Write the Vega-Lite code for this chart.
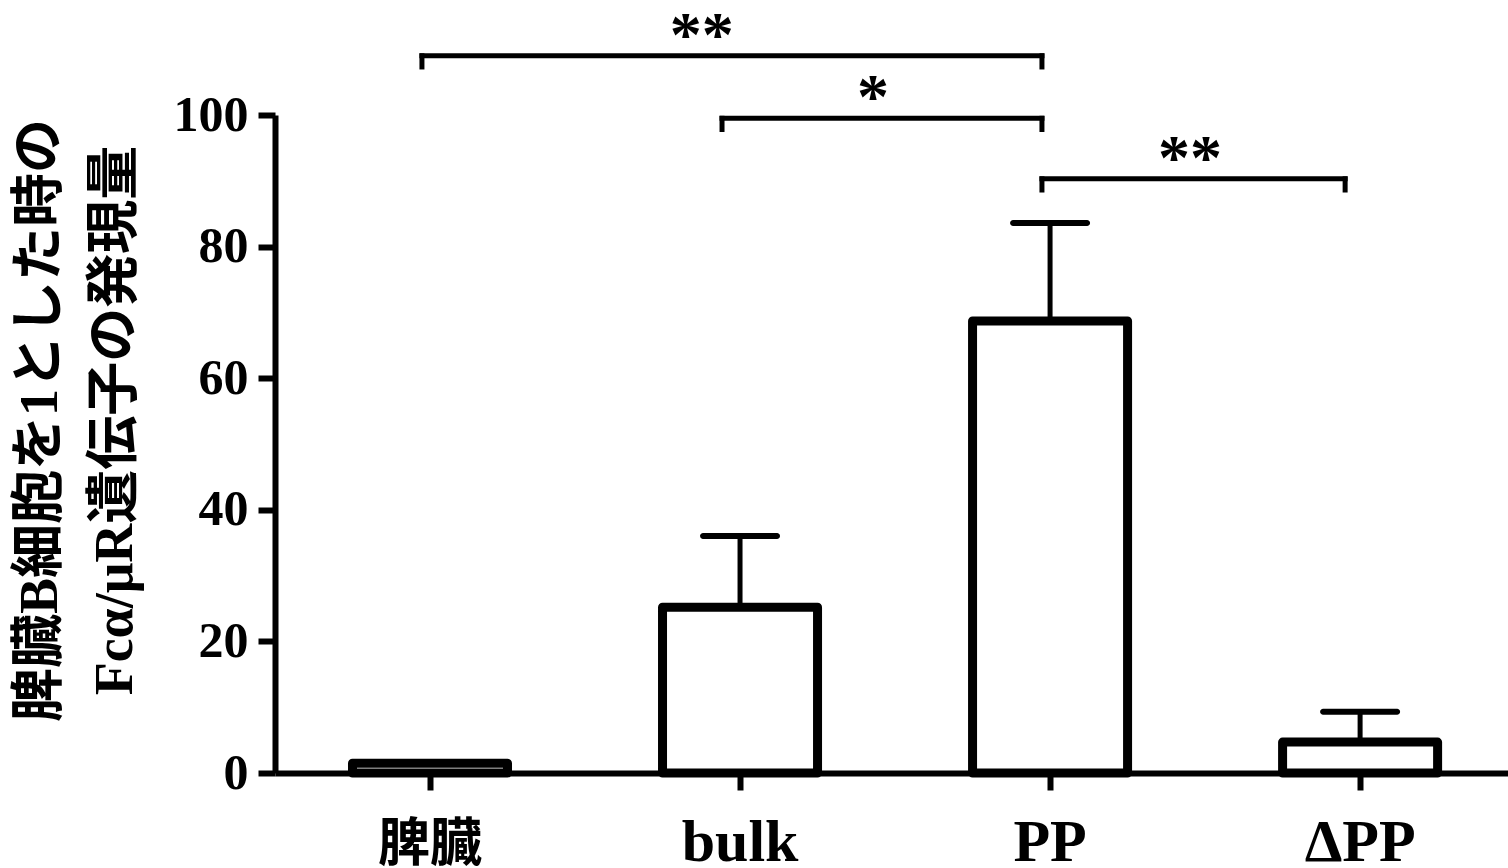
{
  "$schema": "https://vega.github.io/schema/vega-lite/v6.json",
  "width": 1233,
  "height": 658,
  "autosize": {"type": "none"},
  "padding": {"left": 275, "top": 115, "right": 0, "bottom": 95},
  "background": "white",
  "config": {
    "view": {"stroke": null},
    "axisY": {
      "titleFont": "Liberation Serif, Noto Sans CJK JP",
      "titleFontWeight": "bold",
      "titleFontSize": 54,
      "titleLineHeight": 75,
      "titleColor": "black",
      "titleAngle": -90,
      "titleAlign": "center",
      "titleBaseline": "middle",
      "titleX": -235,
      "titleY": 305,
      "labelFont": "Liberation Serif",
      "labelFontWeight": "bold",
      "labelFontSize": 50,
      "labelColor": "black",
      "labelPadding": 10,
      "tickSize": 17,
      "tickWidth": 6,
      "tickColor": "black",
      "domainWidth": 6,
      "domainColor": "black",
      "grid": false
    }
  },
  "datasets": {
    "bars": [
      {"group": "脾臓", "mean": 1.5},
      {"group": "bulk", "mean": 25.2},
      {"group": "PP", "mean": 68.7},
      {"group": "ΔPP", "mean": 4.7}
    ],
    "errors": [
      {"group": "bulk", "mean": 25.2, "upper": 36.0},
      {"group": "PP", "mean": 68.7, "upper": 83.6},
      {"group": "ΔPP", "mean": 4.7, "upper": 9.3}
    ],
    "brackets": [
      {"from": -0.026, "to": 1.974, "level": 109.0, "foot": 107.3, "stars": "**", "starpos": 0.877},
      {"from": 0.942, "to": 1.974, "level": 99.5, "foot": 97.8, "stars": "*", "starpos": 1.429},
      {"from": 1.974, "to": 2.952, "level": 90.3, "foot": 88.6, "stars": "**", "starpos": 2.452}
    ]
  },
  "layer": [
    {
      "layer": [
        {
          "data": {"name": "bars"},
          "mark": {"type": "bar", "fill": "white", "stroke": "black", "strokeWidth": 9, "strokeJoin": "round"},
          "encoding": {
            "x": {
              "field": "group", "type": "nominal", "sort": null,
              "scale": {"paddingInner": 0.5, "paddingOuter": 0.2385, "align": 0.524},
              "axis": {
                "title": null,
                "labelAngle": 0,
                "labelFont": "Liberation Serif, Noto Sans CJK JP",
                "labelFontWeight": "bold",
                "labelFontSize": {"condition": {"test": "datum.value === '脾臓'", "value": 52}, "value": 60},
                "labelColor": "black",
                "labelBaseline": "alphabetic",
                "labelPadding": 70,
                "tickSize": 17,
                "tickWidth": 6,
                "tickColor": "black",
                "domainWidth": 6,
                "domainColor": "black",
                "grid": false
              }
            },
            "y": {
              "field": "mean", "type": "quantitative",
              "scale": {"domain": [0, 100], "nice": false},
              "axis": {"title": ["脾臓B細胞を1とした時の", "Fcα/μR遺伝子の発現量"], "values": [0, 20, 40, 60, 80, 100]}
            }
          }
        },
        {
          "data": {"name": "errors"},
          "mark": {"type": "rule", "strokeWidth": 5, "color": "black"},
          "encoding": {
            "x": {"field": "group", "type": "nominal", "sort": null},
            "y": {"field": "mean", "type": "quantitative", "scale": {"domain": [0, 100], "nice": false}},
            "y2": {"field": "upper"}
          }
        },
        {
          "data": {"name": "errors"},
          "mark": {"type": "tick", "size": 80, "thickness": 6, "color": "black", "opacity": 1, "cornerRadius": 3},
          "encoding": {
            "x": {"field": "group", "type": "nominal", "sort": null},
            "y": {"field": "upper", "type": "quantitative", "scale": {"domain": [0, 100], "nice": false}}
          }
        }
      ]
    },
    {
      "data": {"name": "brackets"},
      "layer": [
        {
          "mark": {"type": "rule", "strokeWidth": 5, "color": "black", "strokeCap": "square"},
          "encoding": {
            "x": {"field": "from", "type": "quantitative", "scale": {"domain": [-0.5, 3.4774], "nice": false, "zero": false}, "axis": null},
            "x2": {"field": "to"},
            "y": {"field": "level", "type": "quantitative", "scale": {"domain": [0, 100], "nice": false}}
          }
        },
        {
          "mark": {"type": "rule", "strokeWidth": 5, "color": "black", "strokeCap": "square"},
          "encoding": {
            "x": {"field": "from", "type": "quantitative", "scale": {"domain": [-0.5, 3.4774], "nice": false, "zero": false}, "axis": null},
            "y": {"field": "level", "type": "quantitative", "scale": {"domain": [0, 100], "nice": false}},
            "y2": {"field": "foot"}
          }
        },
        {
          "mark": {"type": "rule", "strokeWidth": 5, "color": "black", "strokeCap": "square"},
          "encoding": {
            "x": {"field": "to", "type": "quantitative", "scale": {"domain": [-0.5, 3.4774], "nice": false, "zero": false}, "axis": null},
            "y": {"field": "level", "type": "quantitative", "scale": {"domain": [0, 100], "nice": false}},
            "y2": {"field": "foot"}
          }
        },
        {
          "mark": {"type": "text", "font": "Liberation Serif", "fontWeight": "bold", "fontSize": 64, "baseline": "alphabetic", "align": "center", "dy": 0, "color": "black"},
          "encoding": {
            "x": {"field": "starpos", "type": "quantitative", "scale": {"domain": [-0.5, 3.4774], "nice": false, "zero": false}, "axis": null},
            "y": {"field": "level", "type": "quantitative", "scale": {"domain": [0, 100], "nice": false}},
            "text": {"field": "stars"}
          }
        }
      ]
    }
  ],
  "resolve": {"scale": {"x": "independent"}}
}
